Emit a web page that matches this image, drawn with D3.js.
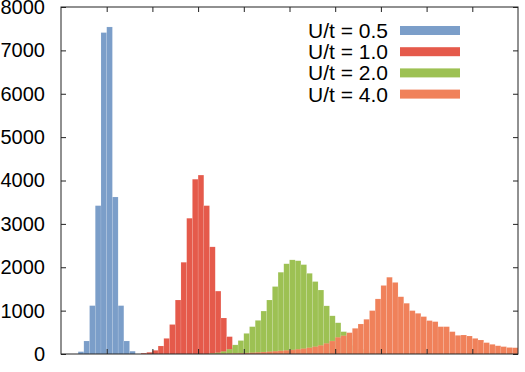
<!DOCTYPE html>
<html>
<head>
<meta charset="utf-8">
<script src="https://cdn.jsdelivr.net/npm/d3@7"></script>
<style>
  body { margin: 0; background: #fff; }
  text { font-family: "Liberation Sans", Arial, sans-serif; fill: #000; }
</style>
</head>
<body>
<div id="chart"></div>
<script>
// histogram counts, bin width 0.125, first bin start per series
const binWidth = 0.125;
const labels = ['U/t = 0.5', 'U/t = 1.0', 'U/t = 2.0', 'U/t = 4.0'];
const colors = ['#7b9ec9', '#e55a4b', '#9dc153', '#f0815a'];
const starts = [0.375, 1.75, 3.25, 3.5];
const u05 = [54, 300, 1115, 3420, 7410, 7540, 3620, 1115, 300, 65];
const u10 = [20, 40, 85, 185, 360, 680, 1245, 2115, 3130, 4030, 4125, 3420, 2470, 1450, 830, 400, 150, 50];
const u20 = [15, 30, 60, 110, 210, 310, 475, 630, 775, 990, 1245, 1555, 1885, 2080, 2170, 2150,
  2060, 1860, 1670, 1475, 1110, 880, 720, 515, 340, 200, 110, 50, 20];
const u40 = [5, 10, 15, 20, 25, 30, 38, 45, 55, 65, 75, 85, 95, 110, 125, 145, 170, 200, 245, 300, 385,
  423, 492, 592, 692, 800, 1000, 1270, 1580, 1770, 1650, 1320, 1170, 1000, 938, 862, 770, 746,
  630, 630, 515, 430, 438, 415, 360, 323, 262, 223, 190, 170, 150, 145];
const yTicks = [0, 1000, 2000, 3000, 4000, 5000, 6000, 7000, 8000];
const xTicks = [1, 2, 3, 4, 5, 6, 7, 8, 9];

const width = 525;
const height = 372;
const margin = { top: 7, right: 7, bottom: 18, left: 61 };

const x = d3.scaleLinear().domain([0, 10]).range([margin.left, width - margin.right]);
const y = d3.scaleLinear().domain([0, 8000]).range([height - margin.bottom, margin.top]);

const svg = d3.select('#chart')
  .append('svg')
    .attr('width', width)
    .attr('height', height);

const series = [u05, u10, u20, u40].map((counts, i) => ({
  color: colors[i],
  bins: counts.map((c, j) => ({ x0: starts[i] + j * binWidth, x1: starts[i] + (j + 1) * binWidth, c }))
}));

svg.append('defs').append('clipPath').attr('id', 'clip')
  .append('rect')
    .attr('x', x(0)).attr('y', y(8000))
    .attr('width', x(10) - x(0)).attr('height', y(0) - y(8000));

const plot = svg.append('g').attr('clip-path', 'url(#clip)');

series.forEach(s => {
  plot.append('g')
    .selectAll('rect')
    .data(s.bins)
    .enter()
      .append('rect')
        .attr('x', d => x(d.x0))
        .attr('width', d => x(d.x1) - x(d.x0))
        .attr('y', d => y(d.c))
        .attr('height', d => y(0) - y(d.c))
        .attr('fill', s.color)
        .attr('stroke', '#fff')
        .attr('stroke-opacity', 0.22)
        .attr('stroke-width', 0.5);
});

// frame with inward ticks on all sides
const axisStyle = g => {
  g.select('.domain').remove();
  g.selectAll('line').attr('stroke', '#222');
};

svg.append('g')
  .attr('transform', `translate(0,${y(0)})`)
  .call(d3.axisTop(x).tickValues(xTicks).tickSize(5).tickFormat(''))
  .call(axisStyle);

svg.append('g')
  .attr('transform', `translate(0,${y(8000)})`)
  .call(d3.axisBottom(x).tickValues(xTicks).tickSize(5).tickFormat(''))
  .call(axisStyle);

svg.append('g')
  .attr('transform', `translate(${x(0)},0)`)
  .call(d3.axisRight(y).tickValues(yTicks).tickSize(5).tickFormat(''))
  .call(axisStyle);

svg.append('g')
  .attr('transform', `translate(${x(10)},0)`)
  .call(d3.axisLeft(y).tickValues(yTicks).tickSize(5).tickFormat(''))
  .call(axisStyle);

svg.append('g')
  .attr('transform', `translate(${x(0)},0)`)
  .call(d3.axisLeft(y).tickValues(yTicks).tickSize(0).tickPadding(16).tickFormat(d3.format('d')))
  .call(g => g.select('.domain').remove())
  .call(g => g.selectAll('text').style('font-size', '20px').attr('fill', '#000'));

svg.append('rect')
  .attr('x', x(0)).attr('y', y(8000))
  .attr('width', x(10) - x(0)).attr('height', y(0) - y(8000))
  .attr('fill', 'none')
  .attr('stroke', '#222')
  .attr('stroke-width', 1);

// legend
const legend = svg.append('g');
labels.forEach((label, i) => {
  const cy = 30.5 + i * 21.2;
  legend.append('text')
    .attr('x', 388)
    .attr('y', cy)
    .attr('dy', '0.36em')
    .attr('text-anchor', 'end')
    .style('font-size', '21px')
    .text(label);
  legend.append('rect')
    .attr('x', 400)
    .attr('y', cy - 4.5)
    .attr('width', 60)
    .attr('height', 9)
    .attr('fill', colors[i]);
});
</script>
</body>
</html>
